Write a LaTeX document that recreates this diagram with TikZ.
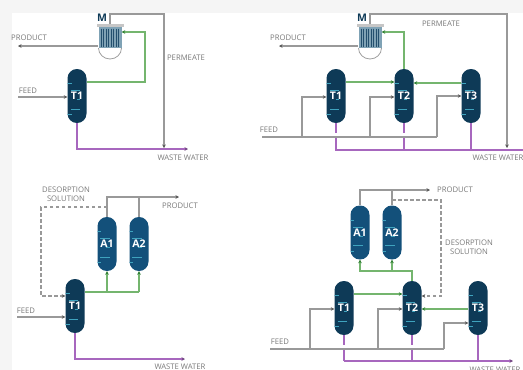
\documentclass[tikz,border=0pt]{standalone}
\usepackage{fontspec}
\setmainfont{Open Sans}
\usetikzlibrary{arrows.meta,calc}
\definecolor{tnavy}{HTML}{0E3A57}
\definecolor{anavy}{HTML}{13507A}
\definecolor{dashc}{HTML}{3FA3BE}
\definecolor{gline}{HTML}{999999}
\definecolor{glab}{HTML}{7A7A7A}
\definecolor{grn}{HTML}{74B56E}
\definecolor{grt}{HTML}{2E7D32}
\definecolor{pur}{HTML}{A767BE}
\definecolor{memb}{HTML}{7FA2B5}
\definecolor{mdark}{HTML}{234F6E}
\tikzset{
 tankmarks/.style={path picture={
   \draw[dashc,line width=.5pt] (-5.5,-16)--(-5.5,17);
   \draw[dashc,line width=1pt] (-9,-16)--(1,-16) (0,-9)--(9.5,-9) (6,0)--(9.5,0) (-9,0)--(-6,0) (0,9.5)--(9.5,9.5) (-9,15)--(1,15);
 }},
 tankbody/.style={rectangle,rounded corners=9.4pt,minimum width=19pt,minimum height=54pt,inner sep=0pt,
   text=white,font=\fontsize{10.5}{10.5}\selectfont\bfseries,tankmarks},
 ttank/.style={tankbody,fill=tnavy},
 atank/.style={tankbody,fill=anavy},
 lab/.style={text=glab,font=\fontsize{7.7}{8.8}\selectfont,align=center,inner sep=0pt},
 mlab/.style={text=tnavy,font=\fontsize{10.5}{10.5}\selectfont\bfseries,inner sep=0pt},
 glp/.style={draw=gline,line width=1.3pt},
 gl/.style={glp,-{Stealth[length=3.5pt,width=3.5pt,color=gray!70!black]}},
 dlp/.style={draw=gline,line width=1.3pt,dash pattern=on 3.5pt off 2.5pt},
 dl/.style={dlp,-{Stealth[length=3.5pt,width=3.5pt,color=gray!70!black]}},
 grp/.style={draw=grn,line width=1.3pt},
 gr/.style={grp,-{Stealth[length=3.5pt,width=3.5pt,color=grt]}},
 pup/.style={draw=pur,line width=1.3pt},
 pu/.style={pup,-{Stealth[length=3.5pt,width=3.5pt,color=pur!70!black]}},
 membbody/.style={rectangle,fill=memb,minimum width=23pt,minimum height=21pt,inner sep=0pt,
  path picture={\foreach \i in {-9,-6.5,-4,-1.5,1,3.5,6,8.5}{\draw[mdark,line width=1pt] (\i,-9)--(\i,9);}}},
 capbar/.style={rectangle,fill=gray!45,minimum width=27pt,minimum height=3pt,inner sep=0pt},
 domeline/.style={draw=gray!75,line width=.8pt,fill=white},
}
\newcommand{\memunit}[3]{% name, x, M-x
 \path[domeline] (#2-11.5,48) arc[start angle=180,end angle=0,x radius=11.5,y radius=11];
 \node[membbody] (#1) at (#2,37.5) {};
 \node[capbar] (#1c) at (#2,25.7) {};
 \node[mlab] (#1m) at (#3,18) {M};
}
\begin{document}
\begin{tikzpicture}[x=1pt,y=-1pt]
\useasboundingbox (0,0) rectangle (523,370);
\fill[black!4] (0,0) rectangle (523,370);
\fill[white] (12,13) rectangle (523,370);
\begin{scope}
\clip (0,0) rectangle (523,370);

% ---------- Panel 1
\memunit{ma}{110}{102}
\node[ttank] (ta) at (77,96) {T1};
\coordinate (aprod) at (18,46);
\coordinate (afeed) at (18,97);
\coordinate (aww) at (188,149);
\coordinate (aperm) at (164,148);
\coordinate (apb) at (145,32);
\draw[gl] (ma.west |- aprod) -- (aprod);
\draw[gl] (afeed) -- (ta.west |- afeed);
\draw[gr] (ta.east |- 0,82) -| (apb) -- (ma.east |- apb);
\draw[gl] (mac.north) -- (mac.north |- 0,14) -| (aperm);
\draw[pu] (ta.south) |- (aww);
\node[lab] (al1) at (29,37.5) {PRODUCT};
\node[lab] (al2) at (186,58) {PERMEATE};
\node[lab] (al3) at (28,91) {FEED};
\node[lab] (al4) at (183,157.5) {WASTE WATER};

% ---------- Panel 2
\memunit{mb}{370}{362}
\node[ttank] (tb1) at (336,96) {T1};
\node[ttank] (tb2) at (404,96) {T2};
\node[ttank] (tb3) at (471,96) {T3};
\coordinate (bprod) at (279,46);
\coordinate (bfeed) at (262,137);
\coordinate (bww) at (523,150);
\coordinate (bperm) at (507,148);
\coordinate (bj1) at (302,137);
\coordinate (bj2) at (370,137);
\coordinate (bj3) at (437,137);
\draw[gl] (mb.west |- bprod) -- (bprod);
\draw[gl] (mbc.north) -- (mbc.north |- 0,14) -| (bperm);
\draw[gr] (tb2.north) |- (mb.east |- 0,32);
\draw[gr] (tb1.east |- 0,82) -- (tb2.west |- 0,82);
\draw[gr] (tb3.west |- 0,83) -- (tb2.east |- 0,83);
\draw[glp] (bfeed) -- (bj3);
\draw[gl] (bj1) |- (tb1.west |- 0,97);
\draw[gl] (bj2) |- (tb2.west |- 0,97);
\draw[gl] (bj3) |- (tb3.west |- 0,96);
\draw[pup] (tb1.south) -- ++(0,10) (tb1.south) ++(0,15) |- (bww);
\draw[pup] (tb2.south) -- ++(0,10) (tb2.south) ++(0,15) -- ++(0,12);
\draw[pup] (tb3.south) -- ++(0,27);
\node[lab] (bl1) at (288,37.5) {PRODUCT};
\node[lab] (bl2) at (441,24) {PERMEATE};
\node[lab] (bl3) at (269,130) {FEED};
\node[lab] (bl4) at (498,157.5) {WASTE WATER};

% ---------- Panel 3
\node[atank] (ca1) at (107,244) {A1};
\node[atank] (ca2) at (139,244) {A2};
\node[ttank] (ct) at (75,306) {T1};
\coordinate (cprod) at (179,197);
\coordinate (cfeed) at (17,317);
\coordinate (cww) at (185,359);
\coordinate (cjg) at (107,292);
\coordinate (cd) at (107,207);
\draw[gl] (ca1.north) |- (cprod);
\draw[glp] (ca2.north) -- (ca2.north |- cprod);
\draw[dl] (cd) -- (41,207) |- (ct.west |- 0,296);
\draw[gl] (cfeed) -- (ct.west |- cfeed);
\draw[grp] (ct.east |- cjg) -- (ca2.south |- cjg);
\draw[gr] (cjg) -- (ca1.south);
\draw[gr] (ca2.south |- cjg) -- (ca2.south);
\draw[pu] (ct.south) |- (cww);
\node[lab] (cl1) at (66,194.5) {DESORPTION\\SOLUTION};
\node[lab] (cl2) at (180,206) {PRODUCT};
\node[lab] (cl3) at (26,311) {FEED};
\node[lab] (cl4) at (180,366.5) {WASTE WATER};

% ---------- Panel 4
\node[atank] (da1) at (360,232.5) {A1};
\node[atank] (da2) at (392,232.5) {A2};
\node[ttank] (dt1) at (344,308) {T1};
\node[ttank] (dt2) at (412,308) {T2};
\node[ttank] (dt3) at (478,308) {T3};
\coordinate (dprod) at (430,190);
\coordinate (dfeed) at (270,349);
\coordinate (dww) at (513,361);
\coordinate (dj1) at (310,349);
\coordinate (dj2) at (378,349);
\coordinate (dj3) at (444,349);
\coordinate (dg) at (392,271);
\coordinate (dd) at (392,200);
\draw[gl] (da1.north) |- (dprod);
\draw[glp] (da2.north) -- (da2.north |- dprod);
\draw[dl] (dd) -- (441,200) |- (dt2.east |- 0,296);
\draw[grp] (dt2.north) |- (dg);
\draw[gr] (dg) -- (da2.south);
\draw[gr] (dg) -| (da1.south);
\draw[gr] (dt1.east |- 0,294) -- (dt2.west |- 0,294);
\draw[gr] (dt3.west |- 0,309) -- (dt2.east |- 0,309);
\draw[glp] (dfeed) -- (dj3);
\draw[gl] (dj1) |- (dt1.west |- 0,309);
\draw[gl] (dj2) |- (dt2.west |- 0,309);
\draw[gl] (dj3) |- (dt3.west |- 0,323);
\draw[pu] (dt1.south |- dww) -- (dww);
\draw[pup] (dt1.south) -- ++(0,10) (dt1.south) ++(0,15) -- ++(0,11);
\draw[pup] (dt2.south) -- ++(0,10) (dt2.south) ++(0,15) -- ++(0,11);
\draw[pup] (dt3.south) -- ++(0,26);
\node[lab] (dl1) at (455,190) {PRODUCT};
\node[lab] (dl2) at (469,247.5) {DESORPTION\\SOLUTION};
\node[lab] (dl3) at (280,342) {FEED};
\node[lab] (dl4) at (495,369.5) {WASTE WATER};
\end{scope}
\end{tikzpicture}
\end{document}
